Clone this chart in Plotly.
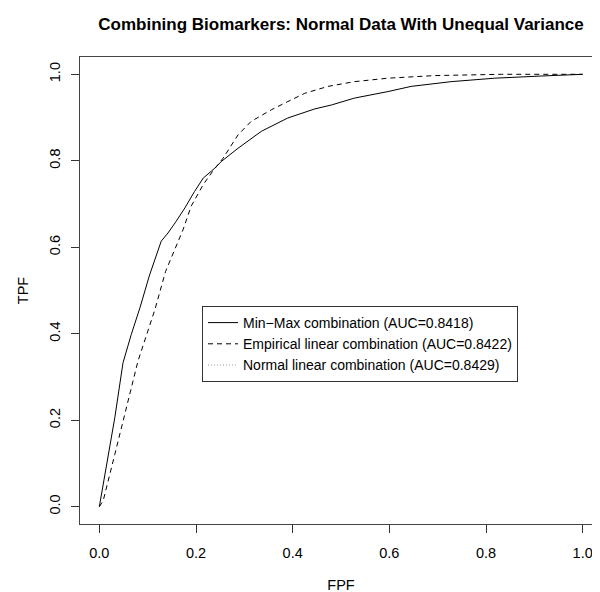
import plotly.graph_objects as go

# ROC curves
fpf_minmax = [0, 0.009, 0.032, 0.049, 0.066, 0.084, 0.104, 0.128, 0.142, 0.159, 0.177,
              0.197, 0.215, 0.239, 0.252, 0.287, 0.335, 0.390, 0.446, 0.480, 0.528,
              0.597, 0.645, 0.728, 0.818, 0.914, 1.0]
tpf_minmax = [0, 0.059, 0.206, 0.333, 0.398, 0.460, 0.536, 0.614, 0.633, 0.660, 0.691,
              0.729, 0.760, 0.783, 0.798, 0.829, 0.868, 0.899, 0.920, 0.929, 0.945,
              0.960, 0.972, 0.983, 0.991, 0.996, 1.0]

fpf_empirical = [0, 0.008, 0.032, 0.056, 0.080, 0.115, 0.137, 0.173, 0.190, 0.215, 0.234,
                 0.256, 0.287, 0.314, 0.356, 0.390, 0.425, 0.473, 0.528, 0.597, 0.694,
                 0.832, 1.0]
tpf_empirical = [0, 0.014, 0.121, 0.229, 0.337, 0.456, 0.544, 0.640, 0.695, 0.745, 0.775,
                 0.806, 0.860, 0.891, 0.918, 0.937, 0.956, 0.972, 0.983, 0.991, 0.997,
                 1.0, 1.0]

legend_names = [
    "Min\u2212Max combination (AUC=0.8418)",
    "Empirical linear combination (AUC=0.8422)",
    "Normal linear combination (AUC=0.8429)",
]
tick_vals = [0.0, 0.2, 0.4, 0.6, 0.8, 1.0]
tick_text = ["0.0", "0.2", "0.4", "0.6", "0.8", "1.0"]

FONT = "Liberation Sans, Arial, sans-serif"

fig = go.Figure()

fig.add_trace(go.Scatter(
    x=fpf_minmax, y=tpf_minmax, name=legend_names[0], mode="lines",
    line=dict(color="black", width=1)
))
fig.add_trace(go.Scatter(
    x=fpf_empirical, y=tpf_empirical, name=legend_names[1], mode="lines",
    line=dict(color="black", width=1, dash="5px,4px")
))
# normal linear combination is not visible in the plot, only in the legend
fig.add_trace(go.Scatter(
    x=[None], y=[None], name=legend_names[2], mode="lines",
    line=dict(color="#999999", width=1, dash="1px,2px")
))

axis_common = dict(
    range=[-0.04, 1.04],
    tickvals=tick_vals,
    ticktext=tick_text,
    ticks="outside",
    ticklen=8,
    tickwidth=1,
    tickcolor="#333333",
    showline=True,
    linecolor="#444444",
    linewidth=1,
    mirror=True,
    showgrid=False,
    zeroline=False,
    automargin=False,
    tickfont=dict(family=FONT, size=14.5, color="black"),
)

fig.update_layout(
    width=600,
    height=592,
    margin=dict(l=72, r=6, t=49, b=76),
    paper_bgcolor="white",
    plot_bgcolor="white",
    title=dict(
        text="<b>Combining Biomarkers: Normal Data With Unequal Variance</b>",
        x=0.5, xref="paper", xanchor="center",
        y=1 - 16 / 592, yref="container", yanchor="middle",
        font=dict(family=FONT, size=17, color="black"),
        automargin=False,
    ),
    xaxis=dict(
        **axis_common,
        ticklabelstandoff=8,
        title=dict(text="FPF", standoff=19, font=dict(family=FONT, size=14.5, color="black")),
    ),
    yaxis=dict(
        **axis_common,
        tickangle=-90,
        ticklabelstandoff=5,
        title=dict(text="TPF", standoff=15, font=dict(family=FONT, size=14.5, color="black")),
    ),
    legend=dict(
        x=(194 - 72) / 522, xanchor="left",
        y=(516 - 336) / 467, yanchor="middle",
        bordercolor="#333333", borderwidth=1,
        bgcolor="white",
        font=dict(family=FONT, size=14, color="black"),
        tracegroupgap=0,
    ),
    showlegend=True,
)

fig.write_html("out.html")
